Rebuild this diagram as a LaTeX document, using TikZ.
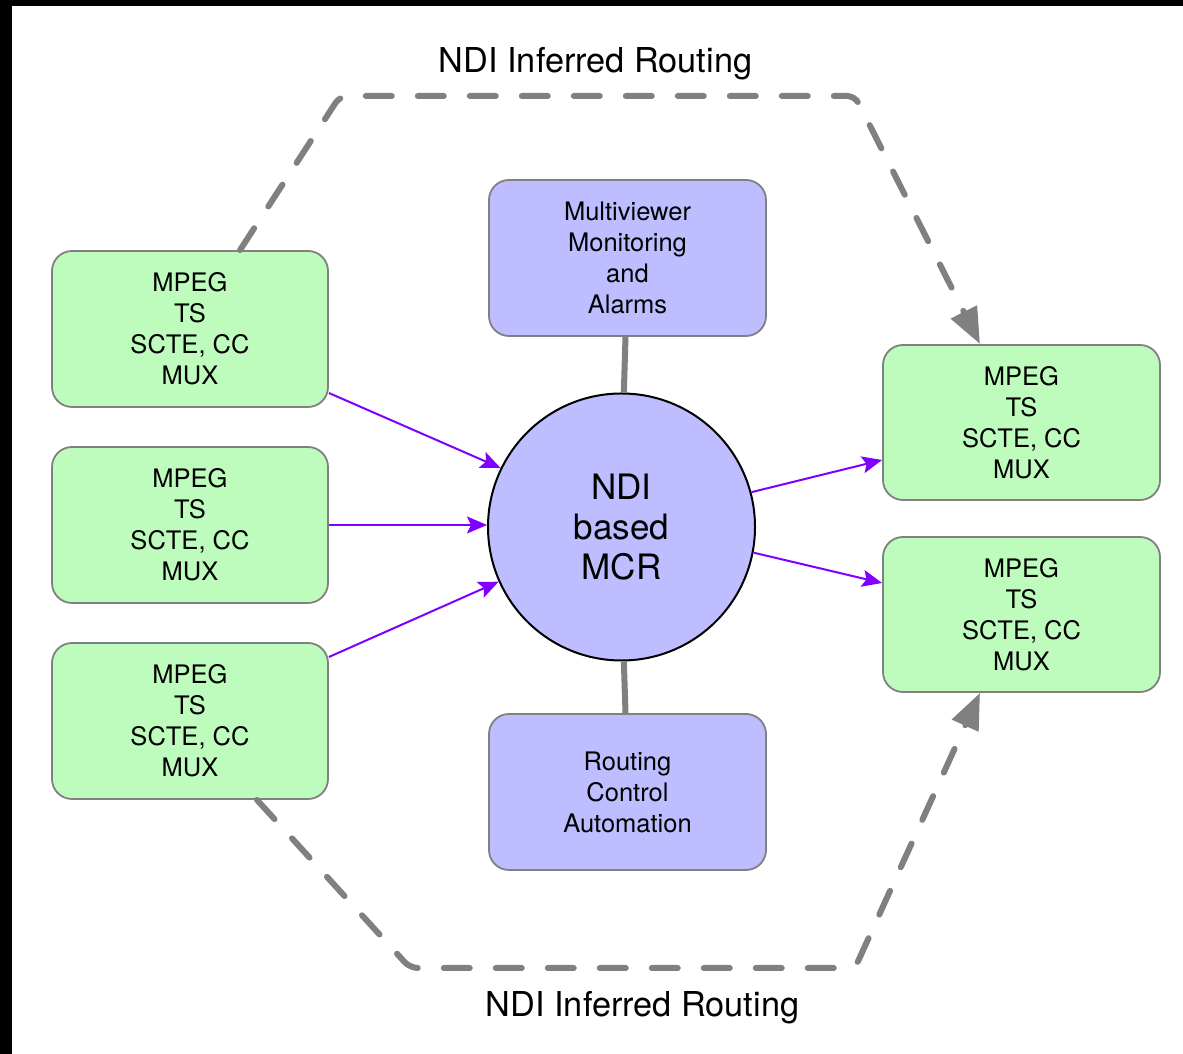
\documentclass[tikz,border=0pt]{standalone}
\usepackage{fontspec}
\setmainfont{TeX Gyre Heros}
\usetikzlibrary{arrows.meta,calc}
\definecolor{boxgreen}{RGB}{190,252,190}
\definecolor{boxblue}{RGB}{189,189,255}
\definecolor{edgegray}{RGB}{128,128,128}
\definecolor{flowpurple}{RGB}{127,0,255}
\tikzset{
  muxbox/.style={draw=edgegray, line width=1.8pt, fill=boxgreen, rounded corners=20pt,
    minimum width=276pt, minimum height=156pt, inner sep=0pt, align=center,
    font=\fontsize{25.5}{31}\selectfont},
  ctrlbox/.style={draw=edgegray, line width=1.8pt, fill=boxblue, rounded corners=20pt,
    minimum width=277pt, minimum height=156pt, inner sep=0pt, align=center,
    font=\fontsize{25.5}{31}\selectfont},
  hub/.style={circle, draw=black, line width=2pt, fill=boxblue, minimum size=267pt,
    inner sep=0pt, align=center, font=\fontsize{35}{40}\selectfont},
  flow/.style={draw=flowpurple, line width=2pt, -{Stealth[length=20pt,width=17pt,inset=4pt]}},
  link/.style={draw=edgegray, line width=6pt},
  routeline/.style={draw=edgegray, line width=6pt, line cap=round, dash pattern=on 26pt off 26pt,
    rounded corners=8pt, -{Triangle[length=36pt,width=28pt]}},
  titletext/.style={anchor=base, font=\fontsize{34.3}{40}\selectfont}
}
\begin{document}
\begin{tikzpicture}[x=1pt,y=1pt]
\useasboundingbox (0,0) rectangle (1183,1054);
\fill[black] (0,0) rectangle (1183,1054);
\fill[white] (12,0) rectangle (1183,1048);

% nodes
\node[muxbox] (b1) at (190,725) {MPEG\\TS\\SCTE, CC\\MUX};
\node[muxbox] (b2) at (190,529) {MPEG\\TS\\SCTE, CC\\MUX};
\node[muxbox] (b3) at (190,333) {MPEG\\TS\\SCTE, CC\\MUX};
\node[muxbox, minimum width=277pt, minimum height=155pt] (b4) at (1021.5,631.5) {MPEG\\TS\\SCTE, CC\\MUX};
\node[muxbox, minimum width=277pt, minimum height=155pt] (b5) at (1021.5,439.5) {MPEG\\TS\\SCTE, CC\\MUX};
\node[ctrlbox] (mv) at (627.5,796) {Multiviewer\\Monitoring\\and\\Alarms};
\node[ctrlbox] (rt) at (627.5,262) {Routing\\Control\\Automation};
\node[hub] (c) at (621.5,527) {NDI\\based\\MCR};

\node[titletext] (t1) at (595.5,981) {NDI Inferred Routing};
\node[titletext] (t2) at (642.5,37) {NDI Inferred Routing};

% gray links
\draw[link] ($(mv.south)+(-2,0)$) -- (c.89);
\draw[link] (c.-89) -- ($(rt.north)+(-2,0)$);

% purple flows
\draw[flow] ($(b1.east)+(0,-64)$) -- (c.154.5);
\draw[flow] (b2.east) -- (b2.east -| c.west);
\draw[flow] ($(b3.east)+(0,64)$) -- (c.204.4);
\draw[flow] (c.15) -- ($(b4.west)+(0,-37.5)$);
\draw[flow] (c.-11.7) -- ($(b5.west)+(0,31.5)$);

% dashed routing
\coordinate (tl) at (340,958);
\coordinate (tr) at (855,958);
\coordinate (bl) at (410,86);
\coordinate (br) at (855,86);
\draw[routeline] ($(b1.north)+(50,0)$) -- (tl) -- (tr) -- ($(b4.north)+(-41.5,0)$);
\draw[routeline] ($(b3.south)+(67,0)$) -- (bl) -- (br) -- ($(b5.south)+(-41.5,0)$);
\end{tikzpicture}
\end{document}
